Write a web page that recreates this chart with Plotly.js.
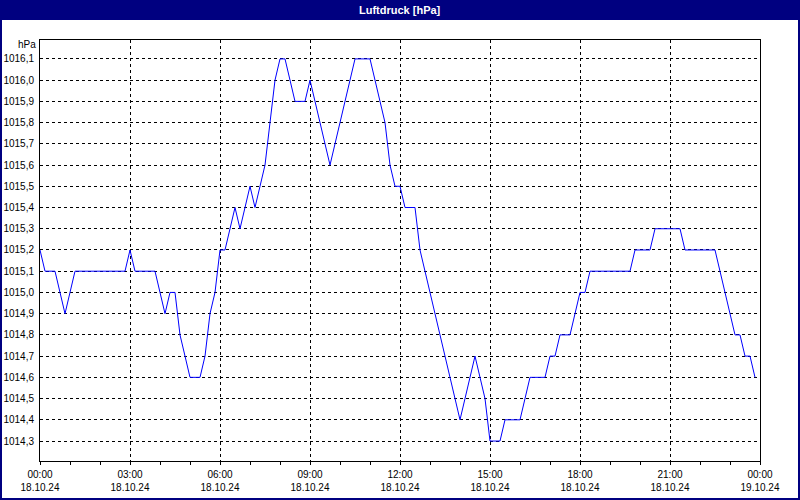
<!DOCTYPE html>
<html>
<head>
<meta charset="utf-8">
<script src="https://cdn.plot.ly/plotly-3.0.1.min.js"></script>
<style>
  html, body { margin: 0; padding: 0; background: #ffffff; }
  #chart { width: 800px; height: 500px; }
</style>
</head>
<body>
<div id="chart"></div>
<script>
// ---- data (18.10.24, 10-minute readings, vertices) ----
const day = '2024-10-18';
const times = [
  '00:00','00:10','00:30','00:50','01:10','02:50','03:00','03:10','03:50','04:10',
  '04:20','04:30','04:40','04:50','05:00','05:20','05:30','05:40','05:50','06:00',
  '06:10','06:30','06:40','07:00','07:10','07:20','07:30','07:40','07:50','08:00',
  '08:10','08:30','08:50','09:00','09:40','10:30','11:00','11:10','11:20','11:30',
  '11:40','11:50','12:00','12:10','12:30','12:40','14:00','14:30','14:50','15:00',
  '15:20','15:30','16:00','16:20','16:50','17:00','17:10','17:20','17:40','17:50',
  '18:00','18:10','18:20','19:40','19:50','20:20','20:30','21:20','21:30','22:30',
  '22:40','22:50','23:00','23:10','23:20','23:30','23:40','23:50'
];
const pressure = [
  1015.2,1015.1,1015.1,1014.9,1015.1,1015.1,1015.2,1015.1,1015.1,1014.9,
  1015.0,1015.0,1014.8,1014.7,1014.6,1014.6,1014.7,1014.9,1015.0,1015.2,
  1015.2,1015.4,1015.3,1015.5,1015.4,1015.5,1015.6,1015.8,1016.0,1016.1,
  1016.1,1015.9,1015.9,1016.0,1015.6,1016.1,1016.1,1016.0,1015.9,1015.8,
  1015.6,1015.5,1015.5,1015.4,1015.4,1015.2,1014.4,1014.7,1014.5,1014.3,
  1014.3,1014.4,1014.4,1014.6,1014.6,1014.7,1014.7,1014.8,1014.8,1014.9,
  1015.0,1015.0,1015.1,1015.1,1015.2,1015.2,1015.3,1015.3,1015.2,1015.2,
  1015.1,1015.0,1014.9,1014.8,1014.8,1014.7,1014.7,1014.6
];
const xTickVals = ['2024-10-18 00:00','2024-10-18 03:00','2024-10-18 06:00','2024-10-18 09:00',
  '2024-10-18 12:00','2024-10-18 15:00','2024-10-18 18:00','2024-10-18 21:00','2024-10-19 00:00'];
const xTickText = ['00:00<br>18.10.24','03:00<br>18.10.24','06:00<br>18.10.24','09:00<br>18.10.24',
  '12:00<br>18.10.24','15:00<br>18.10.24','18:00<br>18.10.24','21:00<br>18.10.24','00:00<br>19.10.24'];
const chartTitle = 'Luftdruck [hPa]';
const unitLabel = 'hPa';

// ---- figure ----
const W = 720, H = 421, ML = 40, MR = 40, MT = 40, MB = 39;
const px = v => v / W, py = v => v / H;
const navy = '#000080';
const tickFont = { family: '"Liberation Sans", Arial, sans-serif', size: 10, color: '#000000' };

const trace = {
  x: times.map(t => day + ' ' + t),
  y: pressure,
  type: 'scatter',
  mode: 'lines',
  line: { color: '#0000ff', width: 1 },
  hoverinfo: 'skip'
};

const layout = {
  width: 800, height: 500,
  margin: { l: ML, r: MR, t: MT, b: MB, pad: 0 },
  paper_bgcolor: '#ffffff',
  plot_bgcolor: '#ffffff',
  showlegend: false,
  separators: ',.',
  font: tickFont,
  xaxis: {
    type: 'date',
    range: ['2024-10-18 00:00', '2024-10-19 00:00'],
    tickmode: 'array',
    tickvals: xTickVals,
    ticktext: xTickText,
    ticks: 'outside', ticklen: 3, tickcolor: '#000000', tickwidth: 1,
    ticklabelstandoff: 1,
    minor: { dtick: 3600000, tick0: '2024-10-18 00:00', ticks: 'outside', ticklen: 3, tickcolor: '#000000', showgrid: false },
    showgrid: true, gridcolor: '#000000', gridwidth: 1, griddash: '3px,3px',
    showline: true, linecolor: '#000000', linewidth: 1, mirror: true,
    zeroline: false, fixedrange: true,
    tickfont: tickFont
  },
  yaxis: {
    range: [1014.206, 1016.189],
    tickmode: 'linear', tick0: 1014.3, dtick: 0.1,
    tickformat: '.1f',
    ticks: '', ticklabelstandoff: 3,
    showgrid: true, gridcolor: '#000000', gridwidth: 1, griddash: '3px,3px',
    showline: true, linecolor: '#000000', linewidth: 1, mirror: true,
    zeroline: false, fixedrange: true,
    tickfont: tickFont
  },
  shapes: [
    { type: 'rect', xref: 'paper', yref: 'paper', layer: 'above',
      x0: px(-ML), x1: 1 + px(MR), y0: 1 + py(MT - 20), y1: 1 + py(MT),
      fillcolor: navy, line: { width: 0 } },
    { type: 'rect', xref: 'paper', yref: 'paper', layer: 'above',
      x0: px(-ML), x1: 1 + px(MR), y0: -py(MB), y1: 1 + py(MT),
      fillcolor: 'rgba(0,0,0,0)', line: { color: navy, width: 4 } }
  ],
  annotations: [
    { text: chartTitle, xref: 'paper', yref: 'paper', x: 0.5, y: 1 + py(MT - 10),
      xanchor: 'center', yanchor: 'middle', showarrow: false,
      font: { family: '"Liberation Sans", Arial, sans-serif', size: 11, color: '#ffffff', weight: 'bold' } },
    { text: unitLabel, xref: 'paper', yref: 'paper', x: 0, y: 1,
      xanchor: 'right', yanchor: 'middle', xshift: -2, yshift: -4, showarrow: false,
      font: tickFont }
  ]
};

Plotly.newPlot('chart', [trace], layout, { displayModeBar: false, staticPlot: true });
</script>
</body>
</html>
